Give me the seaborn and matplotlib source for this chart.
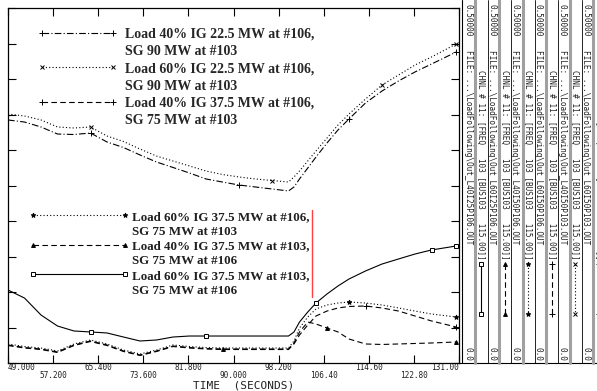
import numpy as np
import pandas as pd
import seaborn as sns
import matplotlib
matplotlib.use("Agg")
import matplotlib.pyplot as plt
from matplotlib.lines import Line2D

# ---------------- data ----------------
time = [49, 52, 55, 58, 61, 64, 67, 70, 73, 76, 79, 82, 85, 88, 91, 94, 97,
        100, 101, 102, 103.5, 105, 107, 109, 111, 114, 117, 120, 123, 126, 130.5]

l40_ig225_106 = [0.3423, 0.3394, 0.3324, 0.3225, 0.3218, 0.3239, 0.3113, 0.3035, 0.2930, 0.2831,
                 0.2754, 0.2676, 0.2592, 0.2549, 0.2507, 0.2479, 0.2451, 0.2423, 0.2479, 0.2592,
                 0.2746, 0.2901, 0.3099, 0.3282, 0.3437, 0.3662, 0.3831, 0.3972, 0.4099, 0.4211, 0.4380]
l60_ig225_106 = [0.3507, 0.3479, 0.3423, 0.3324, 0.3310, 0.3324, 0.3197, 0.3120, 0.3014, 0.2915,
                 0.2845, 0.2775, 0.2704, 0.2655, 0.2620, 0.2592, 0.2570, 0.2549, 0.2620, 0.2704,
                 0.2845, 0.2986, 0.3169, 0.3352, 0.3507, 0.3718, 0.3915, 0.4056, 0.4197, 0.4310, 0.4493]
l40_ig375_106 = [0.0246, 0.0211, 0.0190, 0.0148, 0.0246, 0.0303, 0.0246, 0.0162, 0.0106, 0.0162,
                 0.0232, 0.0211, 0.0197, 0.0190, 0.0190, 0.0190, 0.0190, 0.0190, 0.0268, 0.0394,
                 0.0535, 0.0662, 0.0732, 0.0775, 0.0796, 0.0803, 0.0775, 0.0732, 0.0662, 0.0592, 0.0507]
l60_ig375_106 = [0.0268, 0.0232, 0.0211, 0.0169, 0.0268, 0.0324, 0.0268, 0.0183, 0.0127, 0.0183,
                 0.0254, 0.0232, 0.0218, 0.0211, 0.0211, 0.0211, 0.0211, 0.0211, 0.0310, 0.0493,
                 0.0648, 0.0761, 0.0817, 0.0845, 0.0859, 0.0845, 0.0817, 0.0775, 0.0732, 0.0690, 0.0648]
l40_ig375_103 = [0.0254, 0.0218, 0.0197, 0.0155, 0.0254, 0.0310, 0.0254, 0.0169, 0.0113, 0.0169,
                 0.0239, 0.0218, 0.0204, 0.0197, 0.0197, 0.0197, 0.0197, 0.0197, 0.0282, 0.0437,
                 0.0577, 0.0549, 0.0493, 0.0437, 0.0338, 0.0268, 0.0261, 0.0268, 0.0275, 0.0282, 0.0296]
l60_ig375_103 = [0.1028, 0.0915, 0.0676, 0.0521, 0.0451, 0.0437, 0.0423, 0.0366, 0.0310, 0.0324,
                 0.0366, 0.0380, 0.0380, 0.0380, 0.0380, 0.0380, 0.0380, 0.0380, 0.0437, 0.0577,
                 0.0718, 0.0845, 0.0972, 0.1085, 0.1183, 0.1296, 0.1394, 0.1465, 0.1535, 0.1592, 0.1648]

labels_top = ["Load 40% IG 22.5 MW at #106,", "Load 60% IG 22.5 MW at #106,", "Load 40% IG 37.5 MW at #106,"]
sub_top = ["SG 90 MW at #103", "SG 90 MW at #103", "SG 75 MW at #103"]
labels_bot = ["Load 60% IG 37.5 MW at #106,", "Load 40% IG 37.5 MW at #103,", "Load 60% IG 37.5 MW at #103,"]
sub_bot = ["SG 75 MW at #103", "SG 75 MW at #106", "SG 75 MW at #106"]

xticks_row1 = [49.0, 65.4, 81.8, 98.2, 114.6, 131.0]
xlabels_row1 = ["49.000", "65.400", "81.800", "98.200", "114.60", "131.00"]
xticks_row2 = [57.2, 73.6, 90.0, 106.4, 122.8]
xlabels_row2 = ["57.200", "73.600", "90.000", "106.40", "122.80"]
yticks = [0.0, 0.05, 0.1, 0.15, 0.2, 0.25, 0.3, 0.35, 0.4, 0.45, 0.5]

files = ["Out_L40I25P106.OUT", "Out_L60I25P106.OUT", "Out_L40I50P106.OUT",
         "Out_L60I50P106.OUT", "Out_L40I50P103.OUT", "Out_L60I50P103.OUT"]
chnl = "CHNL # 11: [FREQ   103 [BUS103   115.00]]"

# ---------------- style ----------------
sns.set_theme(style="white")
plt.rcParams["font.family"] = ["DejaVu Sans"]

W, H = 597, 391
fig = plt.figure(figsize=(W / 100, H / 100), dpi=100)
ax = fig.add_axes([8 / W, 28 / H, 451 / W, 355 / H])

DOT = (0, (1, 2))
DASH = (0, (5, 3))
DASHDOT = (0, (6, 2, 1, 2))

series = [
    # values, linestyle, marker, markevery, msize
    (l40_ig225_106, DASHDOT, "+", [5, 14, 24, 30], 4),
    (l60_ig225_106, DOT, "x", [5, 16, 26, 30], 3),
    (l40_ig375_106, DASH, "+", [25, 30], 4),
    (l60_ig375_106, DOT, "*", [24, 30], 3.5),
    (l40_ig375_103, DASH, "^", [13, 22, 30], 2.8),
    (l60_ig375_103, "-", "s", [5, 12, 21, 29, 30], 3),
]
handles = []
for vals, ls, mk, me, ms in series:
    df = pd.DataFrame({"t": time, "v": vals})
    sns.lineplot(data=df, x="t", y="v", ax=ax, color="black", linewidth=0.8,
                 linestyle=ls, marker=mk, markevery=me, markersize=ms,
                 markerfacecolor="white" if mk == "s" else "black",
                 markeredgecolor="black", markeredgewidth=0.7)
    handles.append(Line2D([], [], color="black", linewidth=0.8, linestyle=ls,
                          marker=mk, markersize=ms, markeredgewidth=0.7,
                          markerfacecolor="white" if mk == "s" else "black",
                          markeredgecolor="black"))

ax.set_xlim(49, 131)
ax.set_ylim(0, 0.5)
tick_font = dict(fontfamily="DejaVu Sans Mono", fontsize=5.6, color="#202020")
ax.set_xticks(xticks_row1)
ax.set_xticklabels(xlabels_row1, **tick_font)
ax.set_xticks(xticks_row2, minor=True)
ax.set_xticklabels(xlabels_row2, minor=True, **tick_font)
tl = ax.get_xticklabels()
tl[0].set_horizontalalignment("left")
tl[-1].set_horizontalalignment("right")
ax.set_yticks(yticks)
ax.set_yticklabels([])
ax.tick_params(axis="both", which="both", direction="in", length=6, width=0.8, color="black",
               top=True, right=True, bottom=True, left=True)
ax.tick_params(axis="x", which="major", pad=0.2)
ax.tick_params(axis="x", which="minor", pad=6.0)
ax.set_xlabel("TIME  (SECONDS)", fontfamily="DejaVu Sans Mono", fontsize=8.0, color="#202020")
ax.xaxis.set_label_coords((244 - 8) / 451, -(386 - 363) / 355)
ax.xaxis.label.set_verticalalignment("center")
ax.set_ylabel("")
for s in ax.spines.values():
    s.set_color("black")
    s.set_linewidth(0.9)
ax.grid(False)

# ---------------- in-plot legends ----------------
blank = Line2D([], [], linestyle="none")
serif = {"family": "Liberation Serif", "weight": "bold", "size": 10}
h1, l1 = [], []
for h, a, b in zip(handles[:3], labels_top, sub_top):
    h1 += [h, blank]
    l1 += [a, b]
leg1 = ax.legend(h1, l1, loc="upper left", bbox_to_anchor=((38 - 8) / 451, 1 - (28 - 8) / 355),
                 frameon=False, prop=serif, handlelength=5.7, handletextpad=0.55,
                 labelspacing=0.30, borderpad=0, borderaxespad=0, numpoints=2)
ax.add_artist(leg1)

serif2 = {"family": "Liberation Serif", "weight": "bold", "size": 9.4}
h2, l2 = [], []
for h, a, b in zip(handles[3:], labels_bot, sub_bot):
    h2 += [h, blank]
    l2 += [a, b]
leg2 = ax.legend(h2, l2, loc="upper left", bbox_to_anchor=((28 - 8) / 451, 1 - (210 - 8) / 355),
                 frameon=True, prop=serif2, handlelength=7.7, handletextpad=0.25,
                 labelspacing=0.2, borderpad=0.05, borderaxespad=0, numpoints=2,
                 fancybox=False, framealpha=1)
leg2.get_frame().set_edgecolor("none")
leg2.get_frame().set_facecolor("white")
for t in leg2.get_texts():
    t.set_color("#202020")
ax.plot([(312 - 8) / 451] * 2, [1 - (210 - 8) / 355, 1 - (297 - 8) / 355],
        transform=ax.transAxes, color="#ff4040", linewidth=1.0, zorder=5)

# ---------------- right-hand channel panel ----------------
def fx(x):
    return x / W

def fy(y):
    return 1 - y / H

mono = dict(fontfamily="DejaVu Sans Mono", fontsize=5.6, rotation=270, color="#202020")
fig.add_artist(Line2D([fx(462), fx(462)], [fy(0), fy(363)], color="black", linewidth=0.8))
fig.add_artist(Line2D([fx(459), fx(597)], [fy(363), fy(363)], color="black", linewidth=0.8))
for i, (fname, (vals, ls, mk, me, ms)) in enumerate(zip(files, series[::-1])):
    base = 23.5 * i
    cx_file = 468 + base
    cx_gray = 475.5 + base
    cx_chnl = 481 + base
    cx_sep = 487.5 + base
    fig.text(fx(cx_file), fy(4), "0.50000", ha="center", va="top", **mono)
    fig.text(fx(cx_file), fy(50), "FILE: ...\\LoadFollowing\\" + fname, ha="center", va="top", **mono)
    fig.text(fx(cx_file), fy(361), "0.0", ha="center", va="bottom", **mono)
    fig.add_artist(Line2D([fx(cx_gray)] * 2, [fy(0), fy(363)], color="#a0a0a0", linewidth=2.2))
    fig.add_artist(Line2D([fx(cx_sep)] * 2, [fy(0), fy(363)], color="black", linewidth=0.6))
    fig.text(fx(cx_chnl), fy(70), chnl, ha="center", va="top", **mono)
    fig.add_artist(Line2D([fx(cx_chnl)] * 2, [fy(264), fy(314)], color="black", linewidth=0.8,
                          linestyle=ls, marker=mk, markersize=ms, markeredgewidth=0.7,
                          markerfacecolor="white" if mk == "s" else "black",
                          markeredgecolor="black"))

fig.savefig("out.png", dpi=100)
